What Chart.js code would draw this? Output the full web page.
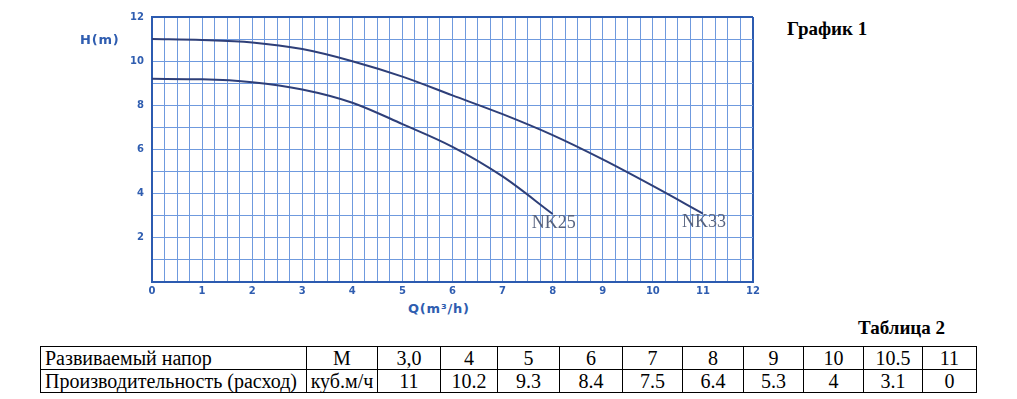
<!DOCTYPE html>
<html lang="ru">
<head>
    <meta charset="UTF-8">
    <title>График 1</title>
    <script src="https://cdn.jsdelivr.net/npm/chart.js"></script>
    <style>
        body {
            margin: 0;
            background: #fff;
            width: 1017px;
            height: 399px;
            position: relative;
            overflow: hidden;
            font-family: 'Liberation Serif', 'Times New Roman', serif;
        }
        #chartBox {
            position: absolute;
            left: 0;
            top: 0;
            width: 780px;
            height: 300px;
        }
        .axis-title {
            position: absolute;
            font-family: 'DejaVu Sans', sans-serif;
            font-weight: bold;
            color: #2f5db0;
            font-size: 13px;
            letter-spacing: 0.8px;
        }
        .caption {
            position: absolute;
            font-weight: bold;
            font-size: 19px;
            color: #000;
        }
        table {
            position: absolute;
            left: 40px;
            top: 346px;
            border-collapse: collapse;
            table-layout: fixed;
            font-size: 20px;
            font-family: 'Liberation Serif', serif;
        }
        td {
            border: 1px solid #000;
            height: 22px;
            padding: 0;
            line-height: 22px;
            text-align: center;
            white-space: nowrap;
            overflow: hidden;
        }
        td.name { text-align: left; padding-left: 4px; }
    </style>
</head>
<body>
    <div id="chartBox"><canvas id="pumpChart"></canvas></div>
    <div class="axis-title" style="left:80px; top:32px;">H(m)</div>
    <div class="axis-title" style="left:408px; top:301px;">Q(m³/h)</div>
    <div class="caption" style="left:787px; top:18px;">График 1</div>
    <div class="caption" style="left:858px; top:317px;">Таблица 2</div>
    <table id="dataTable">
        <colgroup>
            <col style="width:266px"><col style="width:71px"><col style="width:63px"><col style="width:57px">
            <col style="width:62px"><col style="width:63px"><col style="width:60px"><col style="width:61px">
            <col style="width:60px"><col style="width:60px"><col style="width:59px"><col style="width:54px">
        </colgroup>
        <tbody id="tableBody"></tbody>
    </table>

    <script>
        // curve readings from the chart (Q in m3/h, H in m)
        const nk25Q = [0, 1, 2, 3, 4, 5, 6, 7, 8];
        const nk25H = [9.2, 9.18, 9.05, 8.72, 8.12, 7.15, 6.12, 4.78, 3.08];
        const nk33Q = [0, 1, 2, 3, 4, 5, 6, 7, 8, 9, 10, 11];
        const nk33H = [11.0, 10.96, 10.85, 10.55, 10.0, 9.3, 8.45, 7.6, 6.65, 5.55, 4.35, 3.1];
        const curveNames = ['NK25', 'NK33'];

        // table 2
        const rowNames = ['Развиваемый напор', 'Производительность (расход)'];
        const rowUnits = ['М', 'куб.м/ч'];
        const headValues = ['3,0', '4', '5', '6', '7', '8', '9', '10', '10.5', '11'];
        const flowValues = ['11', '10.2', '9.3', '8.4', '7.5', '6.4', '5.3', '4', '3.1', '0'];

        const tbody = document.getElementById('tableBody');
        [headValues, flowValues].forEach((vals, i) => {
            const row = document.createElement('tr');
            row.innerHTML = `<td class="name">${rowNames[i]}</td><td>${rowUnits[i]}</td>` +
                vals.map(v => `<td>${v}</td>`).join('');
            tbody.appendChild(row);
        });

        const gridBlue = '#6f9ade';
        const edgeBlue = '#2c5bb0';
        const tickBlue = '#2f5db0';

        const toPoints = (qs, hs) => qs.map((q, i) => ({ x: q, y: hs[i] }));

        // writes the curve name under the last point of each line
        const endLabels = {
            id: 'endLabels',
            afterDatasetsDraw(chart) {
                const ctx = chart.ctx;
                ctx.save();
                ctx.font = '18px "Liberation Serif", serif';
                ctx.fillStyle = '#56627e';
                ctx.textAlign = 'center';
                ctx.textBaseline = 'middle';
                chart.data.datasets.forEach(ds => {
                    const last = ds.data[ds.data.length - 1];
                    const px = chart.scales.x.getPixelForValue(last.x);
                    const py = chart.scales.y.getPixelForValue(last.y);
                    ctx.fillText(ds.label, px + 1, py + 9);
                });
                ctx.restore();
            }
        };

        const tickFont = { family: 'DejaVu Sans', size: 10, weight: 'bold' };

        new Chart(document.getElementById('pumpChart'), {
            type: 'line',
            data: {
                datasets: [{
                    label: curveNames[0],
                    data: toPoints(nk25Q, nk25H),
                    borderColor: '#2e3f78',
                    borderWidth: 2,
                    pointRadius: 0,
                    cubicInterpolationMode: 'monotone'
                }, {
                    label: curveNames[1],
                    data: toPoints(nk33Q, nk33H),
                    borderColor: '#2e3f78',
                    borderWidth: 2,
                    pointRadius: 0,
                    cubicInterpolationMode: 'monotone'
                }]
            },
            options: {
                responsive: true,
                maintainAspectRatio: false,
                animation: false,
                layout: { padding: { left: 0, top: 17, right: 27, bottom: 0 } },
                plugins: { legend: { display: false }, tooltip: { enabled: false } },
                scales: {
                    x: {
                        type: 'linear',
                        min: 0,
                        max: 12,
                        afterFit: s => { s.height = 18; },
                        border: { color: edgeBlue, width: 2 },
                        grid: {
                            drawTicks: false,
                            color: c => c.tick && c.tick.value === 12 ? edgeBlue : gridBlue,
                            lineWidth: c => c.tick && c.tick.value === 12 ? 2 : 1
                        },
                        ticks: {
                            stepSize: 0.25,
                            autoSkip: false,
                            maxRotation: 0,
                            padding: 3,
                            color: tickBlue,
                            font: tickFont,
                            callback: v => Number.isInteger(v) ? String(v) : ''
                        }
                    },
                    y: {
                        min: 0,
                        max: 12,
                        afterFit: s => { s.width = 152; },
                        border: { color: edgeBlue, width: 2 },
                        grid: {
                            drawTicks: false,
                            color: c => c.tick && c.tick.value === 12 ? edgeBlue : gridBlue,
                            lineWidth: c => c.tick && c.tick.value === 12 ? 2 : 1
                        },
                        ticks: {
                            stepSize: 1,
                            autoSkip: false,
                            padding: 8,
                            color: tickBlue,
                            font: tickFont,
                            callback: v => (v > 0 && v % 2 === 0) ? String(v) : ''
                        }
                    }
                }
            },
            plugins: [endLabels]
        });
    </script>
</body>
</html>
